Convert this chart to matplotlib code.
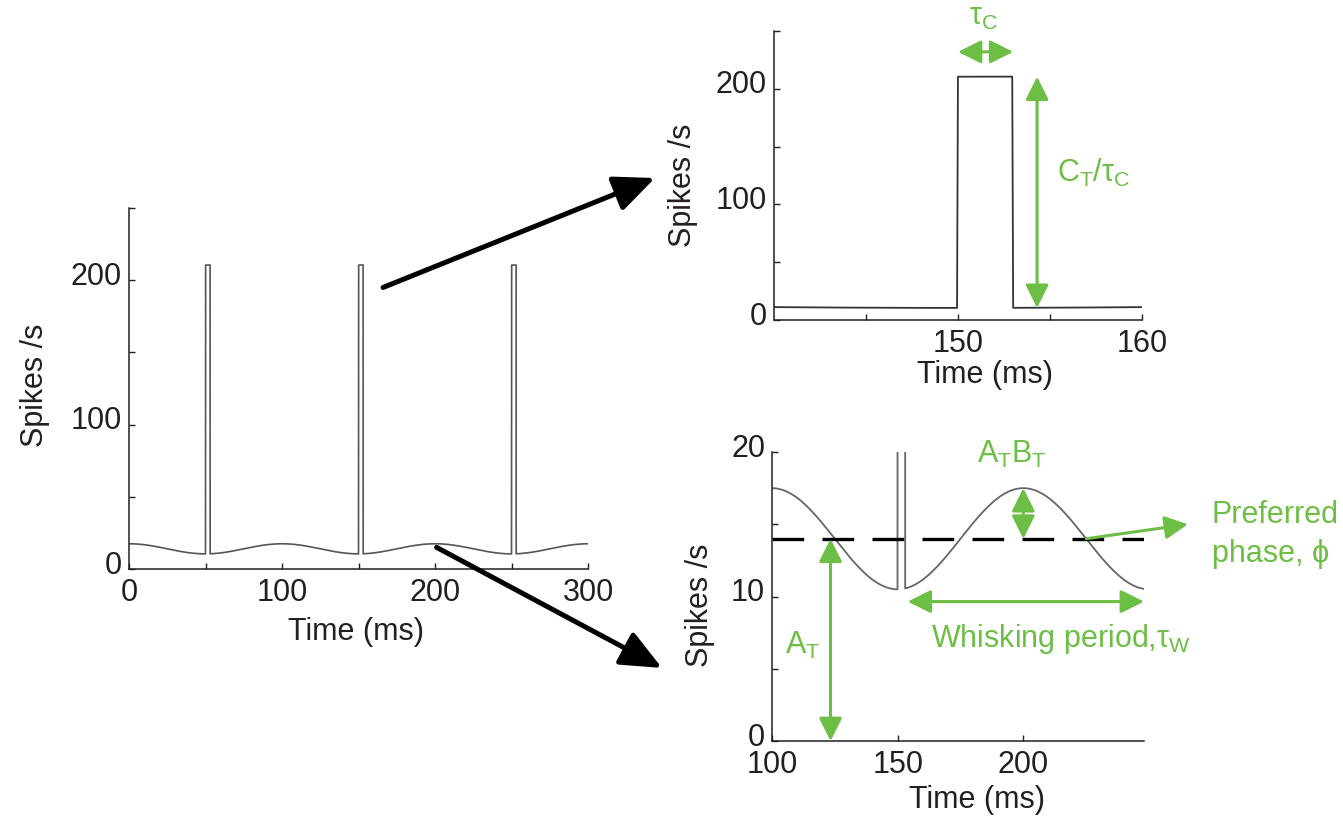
import numpy as np
import matplotlib
matplotlib.use('Agg')
import matplotlib.pyplot as plt
from matplotlib.ticker import MultipleLocator, FixedLocator
from matplotlib.transforms import ScaledTranslation

plt.rcParams['font.family'] = ['Liberation Sans', 'DejaVu Sans']
plt.rcParams['mathtext.fontset'] = 'custom'
plt.rcParams['mathtext.rm'] = 'Liberation Sans'
plt.rcParams['mathtext.it'] = 'Liberation Sans'
plt.rcParams['mathtext.sf'] = 'Liberation Sans'
plt.rcParams['font.size'] = 22

# model parameters (spikes/s and ms)
A_T = 14.0            # mean whisking rate
B_T = 0.25            # modulation depth (A_T*B_T = 3.5)
tau_w = 100.0         # whisking period
phi = 0.0             # preferred phase (peak time)
tau_c = 3.0           # contact pulse duration
C_T = 600.0           # contact response, C_T/tau_c = 200
contact_times = [50, 150, 250]

INK = '#231f20'
LINE = '#555555'
GREEN = '#6cbe45'

t = np.arange(0, 300.05, 0.05)
rate = A_T * (1 + B_T * np.cos(2 * np.pi * (t - phi) / tau_w))
for tc in contact_times:
    rate[(t >= tc) & (t < tc + tau_c)] += C_T / tau_c


def style(ax):
    for s in ['top', 'right']:
        ax.spines[s].set_visible(False)
    for s in ['left', 'bottom']:
        ax.spines[s].set_linewidth(1.1)
        ax.spines[s].set_color(INK)
    ax.tick_params(which='both', direction='in', length=4, width=1.0,
                   colors=INK, labelsize=22)
    ax.tick_params(axis='x', pad=6.5)
    ax.tick_params(axis='y', pad=5)
    # y tick labels sit a little above their ticks
    shift = ScaledTranslation(0, 5 / 72, ax.figure.dpi_scale_trans)
    for lab in ax.get_yticklabels():
        lab.set_transform(lab.get_transform() + shift)


fig = plt.figure(figsize=(13.43, 8.21), dpi=100)

# full trace
ax = fig.add_axes([0.0961, 0.3069, 0.3418, 0.4397])
ax.plot(t, rate, color=LINE, lw=1.2)
ax.set_xlim(0, 300)
ax.set_ylim(0, 250)
ax.xaxis.set_major_locator(MultipleLocator(100))
ax.xaxis.set_minor_locator(FixedLocator([50, 150, 250]))
ax.yaxis.set_major_locator(FixedLocator([0, 100, 200]))
ax.yaxis.set_minor_locator(FixedLocator([50, 150, 250]))
style(ax)
ax.set_xlabel('Time (ms)', va='center', color=INK)
ax.set_ylabel('Spikes /s', va='center', color=INK)
ax.xaxis.set_label_coords(0.495, -0.175)
ax.yaxis.set_label_coords(-0.205, 0.51)

# zoom arrows
ax.annotate('', xy=(0.4877, 0.7832), xycoords='figure fraction',
            xytext=(166, 195), textcoords='data', annotation_clip=False,
            arrowprops=dict(arrowstyle='-|>,head_length=1.25,head_width=0.55',
                            mutation_scale=20, color='black', lw=3.6,
                            shrinkA=0, shrinkB=0))
ax.annotate('', xy=(0.4929, 0.1864), xycoords='figure fraction',
            xytext=(201, 15), textcoords='data', annotation_clip=False,
            arrowprops=dict(arrowstyle='-|>,head_length=1.25,head_width=0.55',
                            mutation_scale=20, color='black', lw=3.6,
                            shrinkA=0, shrinkB=0))

garrow = dict(arrowstyle='<|-|>,head_length=0.7,head_width=0.35',
              mutation_scale=20, color=GREEN, lw=2.2, shrinkA=0, shrinkB=0)
garrow1 = dict(garrow, arrowstyle='-|>,head_length=0.7,head_width=0.35')

# contact pulse close-up
ax1 = fig.add_axes([0.5763, 0.6102, 0.2740, 0.3520])
ax1.plot(t, rate, color='#333333', lw=1.3)
ax1.set_xlim(140, 160)
ax1.set_ylim(0, 250)
ax1.xaxis.set_major_locator(FixedLocator([150, 160]))
ax1.xaxis.set_minor_locator(FixedLocator([145, 155]))
ax1.yaxis.set_major_locator(FixedLocator([0, 100, 200]))
ax1.yaxis.set_minor_locator(FixedLocator([50, 150, 250]))
style(ax1)
ax1.set_xlabel('Time (ms)', va='center', color=INK)
ax1.set_ylabel('Spikes /s', va='center', color=INK)
ax1.xaxis.set_label_coords(0.573, -0.19)
ax1.yaxis.set_label_coords(-0.247, 0.467)

tc = contact_times[1]
base = A_T * (1 - B_T)
ax1.annotate('', xy=(tc, 232), xytext=(tc + tau_c, 232),
             annotation_clip=False, arrowprops=garrow)
ax1.text(tc + tau_c / 2 - 0.1, 262, r'$\tau_C$', color=GREEN,
         ha='center', va='center', fontsize=22)
ax1.annotate('', xy=(tc + 4.3, base + C_T / tau_c), xytext=(tc + 4.3, base),
             annotation_clip=False, arrowprops=garrow)
ax1.text(tc + 5.4, 127, r'$C_T/\tau_C$', color=GREEN, ha='left',
         va='center', fontsize=22)

# whisking modulation close-up
ax2 = fig.add_axes([0.5748, 0.0974, 0.2770, 0.3520])
ax2.plot(t, rate, color='#666666', lw=1.3)
ax2.axhline(A_T, color='black', lw=2.4, dashes=(9.5, 5.5))
ax2.set_xlim(100, 248)
ax2.set_ylim(0, 20)
ax2.xaxis.set_major_locator(FixedLocator([100, 150, 200]))
ax2.yaxis.set_major_locator(FixedLocator([0, 10, 20]))
ax2.yaxis.set_minor_locator(FixedLocator([5, 15]))
style(ax2)
ax2.set_xlabel('Time (ms)', va='center', color=INK)
ax2.set_ylabel('Spikes /s', va='center', color=INK)
ax2.xaxis.set_label_coords(0.551, -0.204)
ax2.yaxis.set_label_coords(-0.194, 0.47)

ax2.annotate('', xy=(123.3, A_T), xytext=(123.3, 0),
             annotation_clip=False, arrowprops=garrow)
ax2.text(105, 6.0, r'$A_T$', color=GREEN, ha='left', va='baseline')
ax2.annotate('', xy=(200, A_T * (1 + B_T)), xytext=(200, A_T),
             annotation_clip=False, arrowprops=garrow)
ax2.text(195.3, 19.25, r'$A_TB_T$', color=GREEN, ha='center', va='baseline')
ax2.annotate('', xy=(154, 9.65), xytext=(248, 9.65),
             annotation_clip=False, arrowprops=garrow)
ax2.text(163.4, 6.5, r'Whisking period,$\tau_W$', color=GREEN,
         ha='left', va='baseline')
ax2.annotate('', xy=(265.5, 15.0), xytext=(225, A_T),
             annotation_clip=False, arrowprops=garrow1)
ax2.text(275, 15.1, 'Preferred', color=GREEN, ha='left', va='baseline')
ax2.text(275, 12.4, 'phase, ϕ', color=GREEN, ha='left', va='baseline')

fig.savefig('out.png', dpi=100)
